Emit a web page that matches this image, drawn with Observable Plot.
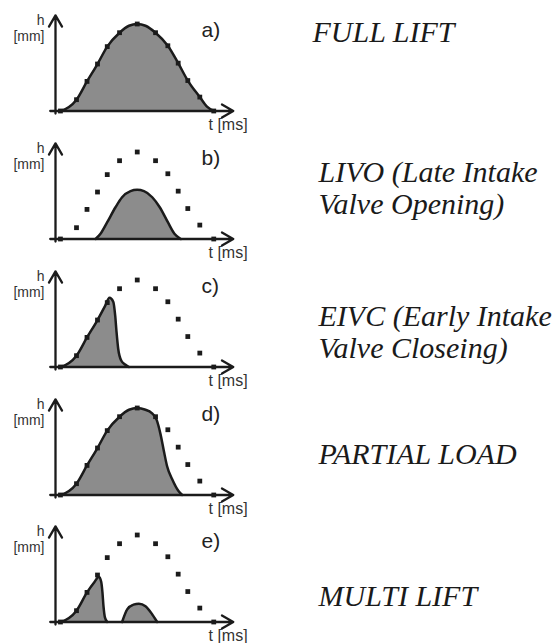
<!DOCTYPE html>
<html>
<head>
<meta charset="utf-8">
<script src="https://cdn.jsdelivr.net/npm/d3@7"></script>
<script src="https://cdn.jsdelivr.net/npm/@observablehq/plot@0.6"></script>
<style>
  html, body { margin: 0; padding: 0; background: #ffffff; }
  #wrap { position: relative; width: 560px; height: 643px; overflow: hidden; background: #fff; }
  #wrap svg { position: absolute; left: 0; }
</style>
</head>
<body>
<div id="wrap"></div>
<script>
// ---- Data ----
// Full-lift reference curve, drawn as dots in every panel
const fullT = [0.33, 1.4, 2.1, 2.8, 3.45, 4.27, 5.45, 6.67, 7.49, 8.18, 8.82, 9.62, 10.55];
const fullH = [0, 1.3, 3.4, 5.4, 7.4, 9.0, 10.0, 9.0, 7.5, 5.5, 3.5, 1.6, 0];

// a) Full lift
const liftA_t = [0.33, 0.9, 1.4, 2.1, 2.8, 3.45, 4.27, 4.9, 5.45, 6.0, 6.67, 7.49, 8.18, 8.82, 9.62, 10.1, 10.55];
const liftA_h = [0, 0.45, 1.3, 3.4, 5.4, 7.4, 9.0, 9.8, 10.0, 9.8, 9.0, 7.5, 5.5, 3.5, 1.6, 0.5, 0];
// b) LIVO
const liftB_t = [2.67, 3.0, 3.44, 4.0, 4.44, 5.0, 5.44, 5.9, 6.45, 6.95, 7.5, 7.93, 8.35];
const liftB_h = [0, 0.6, 1.9, 3.65, 4.8, 5.5, 5.65, 5.5, 4.8, 3.65, 1.9, 0.6, 0];
// c) EIVC
const liftC_t = [0.33, 0.9, 1.4, 2.1, 2.8, 3.3, 3.6, 3.85, 3.98, 4.07, 4.18, 4.38, 4.67, 4.9];
const liftC_h = [0, 0.45, 1.3, 3.4, 5.4, 7.0, 7.95, 7.5, 5.9, 4.0, 2.1, 0.75, 0.25, 0];
// d) Partial load
const liftD_t = [0.33, 0.9, 1.4, 2.1, 2.8, 3.45, 4.27, 4.9, 5.45, 6.0, 6.4, 6.75, 7.0, 7.22, 7.44, 7.78, 8.2, 8.45];
const liftD_h = [0, 0.45, 1.3, 3.4, 5.4, 7.4, 9.0, 9.8, 10.0, 9.8, 9.45, 8.6, 7.0, 5.1, 3.3, 1.8, 0.45, 0];
// e) Multi lift (two events)
const liftE1_t = [0.33, 0.9, 1.4, 2.1, 2.6, 2.89, 3.05, 3.13, 3.2, 3.3, 3.45];
const liftE1_h = [0, 0.45, 1.3, 3.4, 4.6, 5.2, 4.6, 3.4, 1.8, 0.5, 0];
const liftE2_t = [4.44, 4.78, 5.2, 5.56, 6.0, 6.44, 6.78];
const liftE2_h = [0, 1.45, 2.0, 2.1, 1.8, 0.9, 0];

const letters = ["a)", "b)", "c)", "d)", "e)"];
const labels = ["FULL LIFT", "LIVO (Late Intake\nValve Opening)", "EIVC (Early Intake\nValve Closeing)", "PARTIAL LOAD", "MULTI LIFT"];
const yLabel = ["h", "[mm]"];
const xLabel = "t [ms]";

// ---- Build ----
const zip = (ts, hs) => ts.map((t, i) => ({t, h: hs[i]}));
const fullData = zip(fullT, fullH);
const segments = [
  [zip(liftA_t, liftA_h)],
  [zip(liftB_t, liftB_h)],
  [zip(liftC_t, liftC_h)],
  [zip(liftD_t, liftD_h)],
  [zip(liftE1_t, liftE1_h), zip(liftE2_t, liftE2_h)]
];

// layout (pixels inside each panel)
const W = 560, H = 136, baseY = 110.5, left = 55, xMaxPx = 235, hUnit = 8.7;
const yMax = 11, tMax = 12;
const marginTop = baseY - yMax * hUnit;
const panelTop = [0, 128, 256, 384, 510.5];
const labelPos = [
  {x: 312, y: 41},
  {x: 318, y: 85},
  {x: 318, y: 101},
  {x: 318, y: 79},
  {x: 318, y: 94.5}
];
const fa = (px, py) => ({frameAnchor: "top-left", dx: px - left, dy: py - marginTop});

const ink = "#1b1b1b";
const sans = "'Liberation Sans', Arial, Helvetica, sans-serif";
const serif = "'Liberation Serif', 'Times New Roman', Times, serif";

const wrap = document.getElementById("wrap");

segments.forEach((segs, i) => {
  const marks = [];
  segs.forEach(seg => {
    marks.push(Plot.areaY(seg, {x: "t", y: "h", fill: "#8c8c8c", curve: "monotone-x"}));
    marks.push(Plot.line(seg, {x: "t", y: "h", stroke: ink, strokeWidth: 2.5, curve: "monotone-x"}));
  });
  marks.push(Plot.dot(fullData, {x: "t", y: "h", symbol: "square", r: 2.7, fill: ink, stroke: "none"}));
  // axes with arrowheads
  marks.push(Plot.arrow([{x1: 0, y1: -0.3, x2: 0, y2: yMax}], {x1: "x1", y1: "y1", x2: "x2", y2: "y2", stroke: ink, strokeWidth: 2.3, headLength: 8.5, headAngle: 60}));
  marks.push(Plot.arrow([{x1: -0.35, y1: 0, x2: 11.85, y2: 0}], {x1: "x1", y1: "y1", x2: "x2", y2: "y2", stroke: ink, strokeWidth: 2.3, headLength: 8.5, headAngle: 60}));
  // axis labels
  marks.push(Plot.text([yLabel[0]], {text: d => d, ...fa(44, 24), textAnchor: "end", lineAnchor: "bottom", fontSize: 14, fontFamily: sans, fill: "#333"}));
  marks.push(Plot.text([yLabel[1]], {text: d => d, ...fa(44, 40), textAnchor: "end", lineAnchor: "bottom", fontSize: 14, fontFamily: sans, fill: "#333"}));
  marks.push(Plot.text([xLabel], {text: d => d, ...fa(208, 129), textAnchor: "start", lineAnchor: "bottom", fontSize: 16, fontFamily: sans, fill: "#333"}));
  // panel letter
  marks.push(Plot.text([letters[i]], {text: d => d, ...fa(201, 36.5), textAnchor: "start", lineAnchor: "bottom", fontSize: 21, fontFamily: sans, fill: "#222"}));
  // description on the right
  marks.push(Plot.text([labels[i]], {text: d => d, ...fa(labelPos[i].x, labelPos[i].y), textAnchor: "start", lineAnchor: "bottom", fontSize: 30, lineHeight: 1.04, fontFamily: serif, fontStyle: "italic", fill: "#1a1a1a"}));

  const svg = Plot.plot({
    width: W,
    height: H,
    marginLeft: left,
    marginRight: W - xMaxPx,
    marginTop: marginTop,
    marginBottom: H - baseY,
    x: {domain: [0, tMax], axis: null},
    y: {domain: [0, yMax], axis: null},
    style: {background: "transparent", overflow: "visible"},
    marks
  });
  svg.style.top = panelTop[i] + "px";
  wrap.appendChild(svg);
});
</script>
</body>
</html>
